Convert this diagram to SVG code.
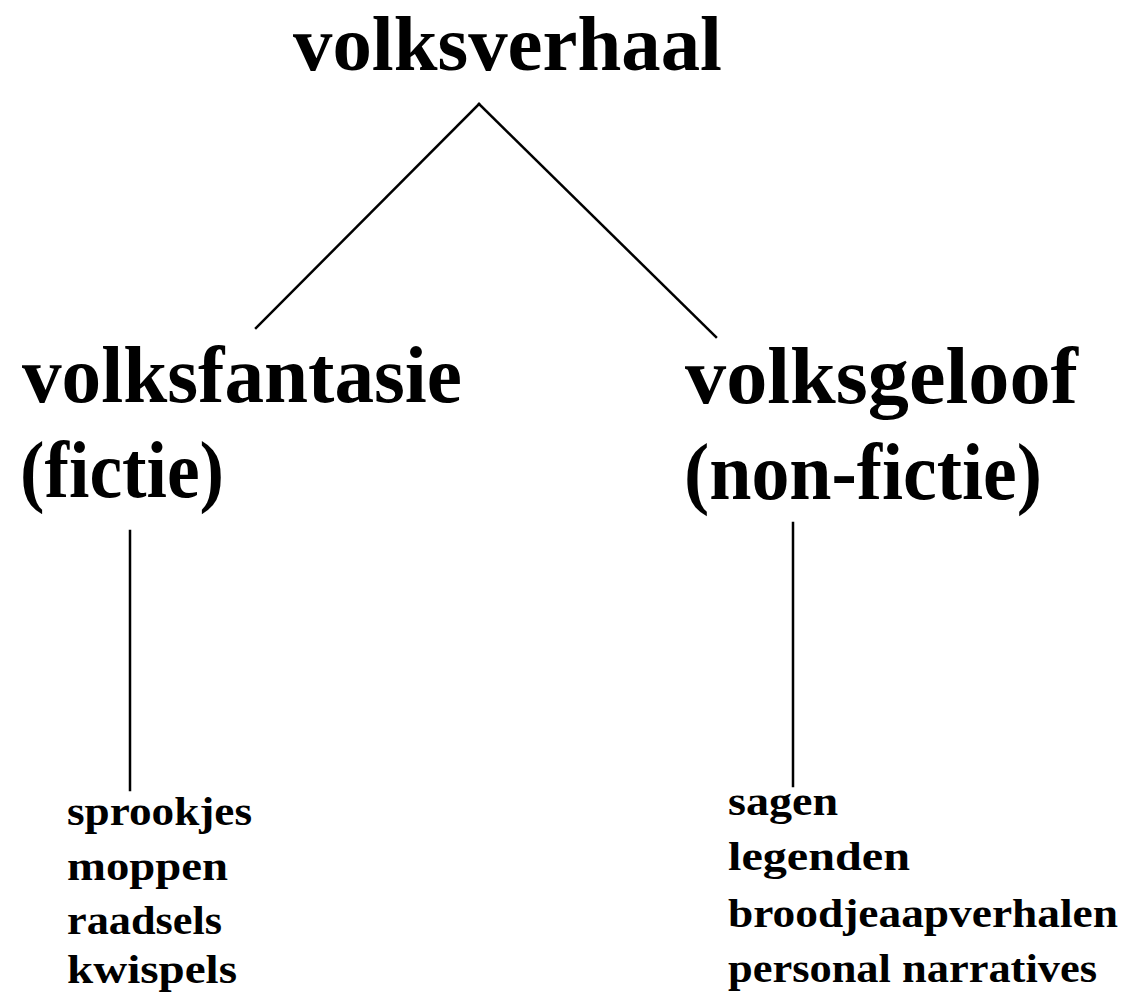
<svg xmlns="http://www.w3.org/2000/svg" width="1125" height="1001" viewBox="0 0 1125 1001">
<style>
text{font-family:"Liberation Serif","DejaVu Serif",serif;font-weight:bold;fill:#000}
.big{font-size:80px}
.title{font-size:78px}
.small{font-size:41px}
.ln{stroke:#000;stroke-width:2.5;fill:none;stroke-linecap:square}
</style>
<rect width="1125" height="1001" fill="#fff"/>
<g id="connectors">
<line class="ln" x1="479" y1="104" x2="256" y2="328"/>
<line class="ln" x1="479" y1="104" x2="716" y2="337"/>
<line class="ln" x1="130" y1="531" x2="130" y2="790"/>
<line class="ln" x1="793" y1="523" x2="793" y2="786"/>
</g>
<g id="volksverhaal"><text class="title" x="293" y="70" textLength="429" lengthAdjust="spacingAndGlyphs">volksverhaal</text></g>
<g id="volksfantasie">
<text class="big" x="22" y="402" textLength="440" lengthAdjust="spacingAndGlyphs">volksfantasie</text>
<text class="big" x="20" y="497" textLength="204" lengthAdjust="spacingAndGlyphs">(fictie)</text>
</g>
<g id="volksgeloof">
<text class="big" x="685" y="403" textLength="393" lengthAdjust="spacingAndGlyphs">volksgeloof</text>
<text class="big" x="684" y="499" textLength="358" lengthAdjust="spacingAndGlyphs">(non-fictie)</text>
</g>
<g id="fictie-list">
<text class="small" x="67" y="825" textLength="185" lengthAdjust="spacingAndGlyphs">sprookjes</text>
<text class="small" x="67" y="880" textLength="161" lengthAdjust="spacingAndGlyphs">moppen</text>
<text class="small" x="67" y="934" textLength="155" lengthAdjust="spacingAndGlyphs">raadsels</text>
<text class="small" x="67" y="983" textLength="170" lengthAdjust="spacingAndGlyphs">kwispels</text>
</g>
<g id="nonfictie-list">
<text class="small" x="728" y="815" textLength="110" lengthAdjust="spacingAndGlyphs">sagen</text>
<text class="small" x="728" y="870" textLength="182" lengthAdjust="spacingAndGlyphs">legenden</text>
<text class="small" x="728" y="927" textLength="390" lengthAdjust="spacingAndGlyphs">broodjeaapverhalen</text>
<text class="small" x="728" y="982" textLength="369" lengthAdjust="spacingAndGlyphs">personal narratives</text>
</g>
</svg>
